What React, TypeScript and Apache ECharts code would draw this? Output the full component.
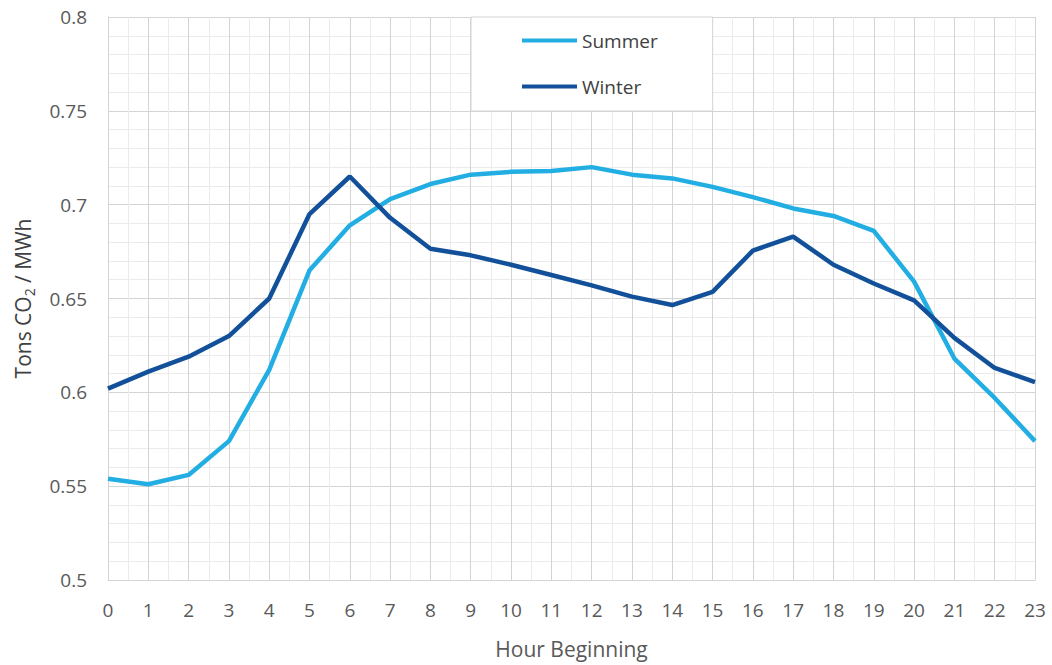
import React, { useEffect, useRef } from "react";
import * as echarts from "echarts";

const hours = [0, 1, 2, 3, 4, 5, 6, 7, 8, 9, 10, 11, 12, 13, 14, 15, 16, 17, 18, 19, 20, 21, 22, 23];
const summer = [0.554, 0.551, 0.556, 0.574, 0.612, 0.665, 0.689, 0.703, 0.711, 0.716, 0.7175, 0.718, 0.72, 0.716, 0.714, 0.7095, 0.704, 0.698, 0.694, 0.686, 0.659, 0.618, 0.597, 0.574];
const winter = [0.602, 0.611, 0.619, 0.63, 0.65, 0.695, 0.715, 0.693, 0.6765, 0.673, 0.668, 0.6625, 0.657, 0.651, 0.6465, 0.6535, 0.6755, 0.683, 0.668, 0.658, 0.649, 0.629, 0.613, 0.6055];
const seriesNames = ["Summer", "Winter"];
const seriesColors = ["#22AEE3", "#12519A"];

export default function App() {
  const ref = useRef<HTMLDivElement>(null);
  useEffect(() => {
    if (!ref.current) return;
    const chart = echarts.init(ref.current, null, { renderer: "svg" });
    const font = "'Open Sans', 'Liberation Sans', sans-serif";
    const major = "#d4d4d4";
    const minor = "#ebebeb";
    chart.setOption({
      animation: false,
      textStyle: { fontFamily: font },
      grid: { left: 108, right: 17, top: 17, bottom: 85, containLabel: false, outerBoundsMode: "none" },
      legend: {
        orient: "vertical",
        left: 471,
        top: 17,
        padding: [14, 55, 15, 51],
        backgroundColor: "#ffffff",
        borderColor: "#d4d4d4",
        borderWidth: 1,
        icon: "rect",
        itemWidth: 55,
        itemHeight: 4,
        itemGap: 27,
        textStyle: { fontSize: 19, color: "#404040", fontFamily: font },
        data: seriesNames,
      },
      xAxis: {
        type: "value",
        min: 0,
        max: 23,
        interval: 1,
        axisLine: { show: true, lineStyle: { color: major } },
        axisTick: { show: false },
        axisLabel: { fontSize: 19, color: "#595959", margin: 20, fontFamily: font },
        splitLine: { show: true, lineStyle: { color: major, width: 1 } },
        minorTick: { show: false, splitNumber: 2 },
        minorSplitLine: { show: true, lineStyle: { color: minor, width: 1 } },
        name: "Hour Beginning",
        nameLocation: "middle",
        nameGap: 58,
        nameTextStyle: { fontSize: 21, color: "#595959", fontFamily: font },
      },
      yAxis: {
        type: "value",
        min: 0.5,
        max: 0.8,
        interval: 0.05,
        axisLine: { show: true, lineStyle: { color: major } },
        axisTick: { show: false },
        axisLabel: { fontSize: 19, color: "#595959", margin: 21, fontFamily: font },
        splitLine: { show: true, lineStyle: { color: major, width: 1 } },
        minorTick: { show: false, splitNumber: 5 },
        minorSplitLine: { show: true, lineStyle: { color: minor, width: 1 } },
        name: "{a|Tons CO}{s|2}{a| / MWh}",
        nameLocation: "middle",
        nameGap: 72,
        nameRotate: 90,
        nameTextStyle: {
          fontSize: 21,
          color: "#404040",
          fontFamily: font,
          rich: {
            a: { fontSize: 21, color: "#404040", fontFamily: font, lineHeight: 26, verticalAlign: "middle" },
            s: { fontSize: 14, color: "#404040", fontFamily: font, lineHeight: 26, verticalAlign: "bottom", padding: [11, 0, 0, 0] },
          },
        },
      },
      series: [
        {
          name: seriesNames[0],
          type: "line",
          data: hours.map((h, i) => [h, summer[i]]),
          showSymbol: false,
          symbol: "none",
          color: seriesColors[0],
          lineStyle: { width: 4.5, color: seriesColors[0] },
          z: 3,
        },
        {
          name: seriesNames[1],
          type: "line",
          data: hours.map((h, i) => [h, winter[i]]),
          showSymbol: false,
          symbol: "none",
          color: seriesColors[1],
          lineStyle: { width: 4.5, color: seriesColors[1] },
          z: 4,
        },
      ],
    });
    return () => chart.dispose();
  }, []);
  return <div ref={ref} style={{ width: 1052, height: 665, position: "fixed", left: 0, top: 0, background: "#fff" }} />;
}
